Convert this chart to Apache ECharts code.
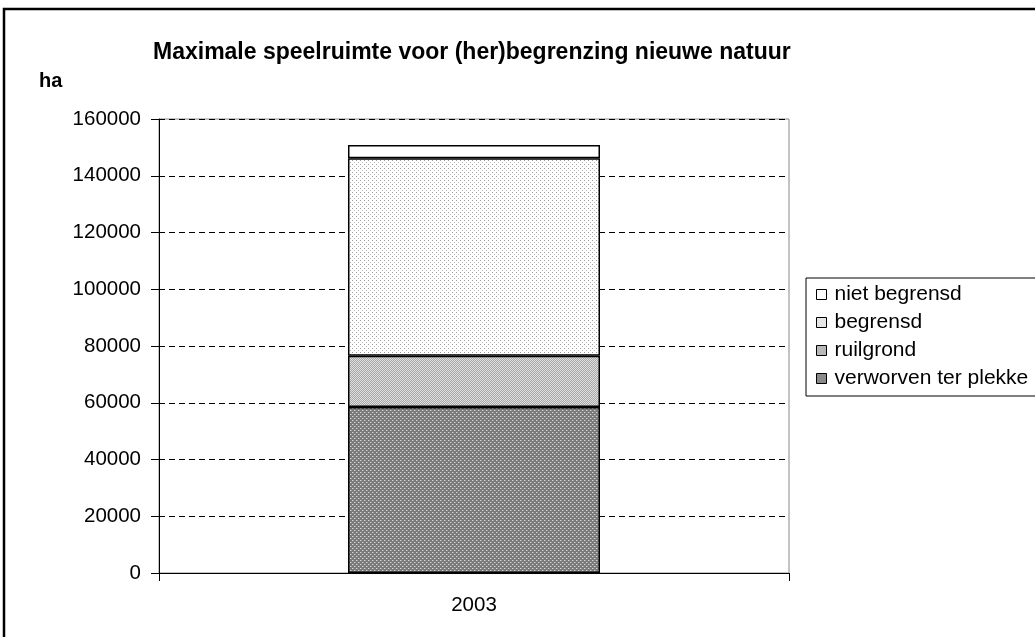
<!DOCTYPE html>
<html>
<head>
<meta charset="utf-8">
<script src="https://cdn.jsdelivr.net/npm/echarts@6/dist/echarts.min.js"></script>
<style>
  html, body { margin: 0; padding: 0; background: #fff; }
  #chart { width: 1035px; height: 637px; }
</style>
</head>
<body>
<div id="chart"></div>
<script>
// data (ha)
var years = ['2003'];
var seriesNames = ['verworven ter plekke', 'ruilgrond', 'begrensd', 'niet begrensd'];
var verworven = [58500];
var ruilgrond = [18100];
var begrensd = [69550];
var nietBegrensd = [4700];
var yTicks = [0, 20000, 40000, 60000, 80000, 100000, 120000, 140000, 160000];

// small tiled patterns like the old excel fills
function makePattern(size, bg, dots) {
  var c = document.createElement('canvas');
  c.width = size;
  c.height = size;
  var ctx = c.getContext('2d');
  ctx.fillStyle = bg;
  ctx.fillRect(0, 0, size, size);
  dots.forEach(function (d) {
    ctx.fillStyle = d[2];
    ctx.fillRect(d[0], d[1], 1, 1);
  });
  return { image: c, repeat: 'repeat' };
}

var fills = [
  makePattern(4, '#7a7a7a', [[0, 0, '#d8d8d8'], [2, 2, '#d8d8d8'], [1, 0, '#a0a0a0'], [3, 2, '#a0a0a0']]),
  makePattern(2, '#a8a8a8', [[0, 0, '#dedede'], [1, 1, '#dedede']]),
  makePattern(4, '#ffffff', [[0, 0, '#9a9a9a'], [2, 2, '#b5b5b5']]),
  '#ffffff'
];
// flat tones for the little legend squares
var legendFills = ['#8a8a8a', '#b8b8b8', '#e6e6e6', '#ffffff'];
var values = [verworven, ruilgrond, begrensd, nietBegrensd];

var chart = echarts.init(document.getElementById('chart'));

var series = seriesNames.map(function (name, i) {
  return {
    name: name,
    type: 'bar',
    stack: 'total',
    barWidth: 252,
    data: values[i],
    itemStyle: {
      color: fills[i],
      borderColor: '#000',
      borderWidth: 1.5
    },
    emphasis: { disabled: true }
  };
});

var legendData = seriesNames.map(function (name, i) {
  return {
    name: name,
    icon: 'rect',
    itemStyle: { color: legendFills[i], borderColor: '#000', borderWidth: 1 }
  };
}).reverse();

chart.setOption({
  animation: false,
  textStyle: { fontFamily: 'Liberation Sans, Arial, sans-serif' },
  title: [
    {
      text: 'Maximale speelruimte voor (her)begrenzing nieuwe natuur',
      left: 148,
      top: 36,
      textStyle: { fontSize: 23, fontWeight: 'bold', color: '#000', fontFamily: 'Liberation Sans, Arial' }
    },
    {
      text: 'ha',
      left: 34,
      top: 66,
      textStyle: { fontSize: 20, fontWeight: 'bold', color: '#000', fontFamily: 'Liberation Sans, Arial' }
    }
  ],
  legend: {
    orient: 'vertical',
    left: 806,
    top: 278,
    padding: [6, 40, 7, 10],
    itemGap: 7,
    itemWidth: 10,
    itemHeight: 10,
    borderColor: '#000',
    borderWidth: 1,
    data: legendData,
    textStyle: { fontSize: 21, lineHeight: 21, color: '#000', padding: [0, 0, 0, 3], fontFamily: 'Liberation Sans, Arial' }
  },
  grid: {
    left: 159,
    top: 119,
    right: 246,
    bottom: 64,
    show: true,
    borderColor: '#888',
    borderWidth: 1
  },
  xAxis: {
    type: 'category',
    data: years,
    axisLine: { lineStyle: { color: '#000', width: 1 } },
    axisTick: { show: true, length: 8, lineStyle: { color: '#000' } },
    axisLabel: { fontSize: 20.5, color: '#000', margin: 22 }
  },
  yAxis: {
    type: 'value',
    min: yTicks[0],
    max: yTicks[yTicks.length - 1],
    interval: 20000,
    axisLine: { show: true, lineStyle: { color: '#000', width: 1 } },
    axisTick: { show: true, length: 8, lineStyle: { color: '#000' } },
    axisLabel: {
      fontSize: 20.5,
      color: '#000',
      margin: 18,
      formatter: function (v) { return String(v); }
    },
    splitLine: { show: true, lineStyle: { color: '#000', type: [6, 4], width: 1 } }
  },
  graphic: [
    {
      type: 'rect',
      shape: { x: 4, y: 9, width: 1060, height: 660 },
      style: { fill: 'none', stroke: '#000', lineWidth: 2.5 },
      silent: true
    }
  ],
  series: series
});
</script>
</body>
</html>
